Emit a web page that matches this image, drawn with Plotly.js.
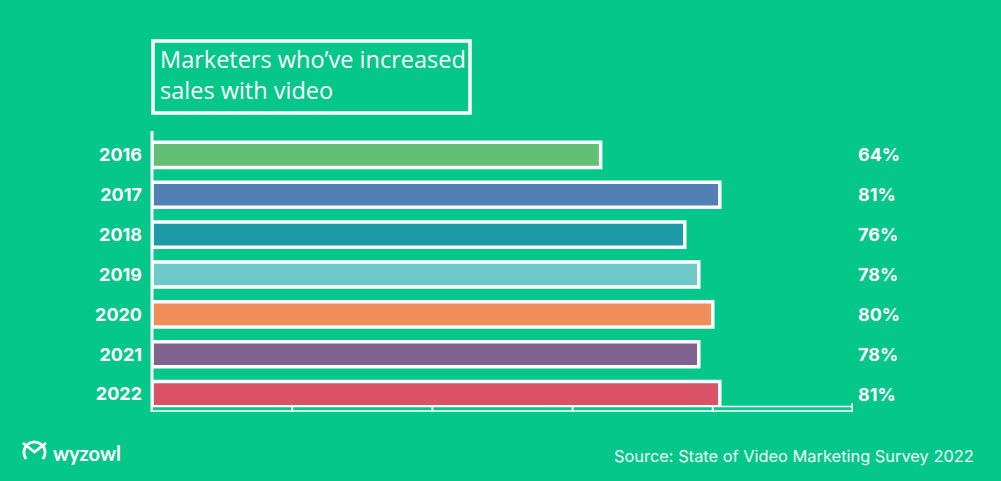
<!DOCTYPE html>
<html>
<head>
<meta charset="utf-8">
<script src="https://cdn.plot.ly/plotly-3.0.1.min.js"></script>
<style>
  html, body { margin: 0; padding: 0; background: #04C789; }
  #chart { width: 1001px; height: 481px; }
</style>
</head>
<body>
<div id="chart"></div>
<script>
const years = ["2016", "2017", "2018", "2019", "2020", "2021", "2022"];
const values = [64, 81, 76, 78, 80, 78, 81];
const valueLabels = ["64%", "81%", "76%", "78%", "80%", "78%", "81%"];
const barColors = ["#62BF74", "#5280B4", "#1E9AA6", "#6FC8C9", "#F18D59", "#80628F", "#D95265"];
const xTicks = [0, 20, 40, 60, 80, 100];

const BG = "#04C789";
const W = 1001, H = 481;
const M = { l: 152, r: 148, t: 135, b: 67 };
const PW = W - M.l - M.r, PH = H - M.t - M.b;
const px = x => (x - M.l) / PW;         // pixel x -> paper x
const py = y => (H - M.b - y) / PH;     // pixel y -> paper y

const trace = {
  type: "bar",
  orientation: "h",
  y: years,
  x: values,
  marker: { color: barColors, line: { color: "#FFFFFF", width: 3.5 } },
  hoverinfo: "none"
};

const annotations = valueLabels.map((t, i) => ({
  xref: "paper", yref: "y", x: px(856), y: i, xanchor: "left", yanchor: "middle",
  text: t, showarrow: false,
  font: { family: "Inter, Roboto, sans-serif", size: 18, color: "#FFFFFF", weight: 700 }
}));

annotations.push({
  xref: "paper", yref: "paper", x: px(158), y: py(41), xanchor: "left", yanchor: "top", align: "left",
  text: "Marketers who’ve increased<br>sales with video", showarrow: false,
  font: { family: "Open Sans, Noto Sans, sans-serif", size: 23.5, color: "#FFFFFF" }
});
annotations.push({
  xref: "paper", yref: "paper", x: px(51), y: py(453), xanchor: "left", yanchor: "middle",
  text: "<b>wyzowl</b>", showarrow: false,
  font: { family: "Lato, Inter, sans-serif", size: 20, color: "#FFFFFF" }
});
annotations.push({
  xref: "paper", yref: "paper", x: px(976), y: py(456), xanchor: "right", yanchor: "middle",
  text: "Source: State of Video Marketing Survey 2022", showarrow: false,
  font: { family: "Inter, sans-serif", size: 16.4, color: "#F2FFF9" }
});

const shapes = [];
// title box
shapes.push({ type: "rect", xref: "paper", yref: "paper", x0: px(153), x1: px(470), y0: py(113), y1: py(41),
  line: { color: "#FFFFFF", width: 3.5 }, fillcolor: "rgba(0,0,0,0)", layer: "above" });
// y axis line
shapes.push({ type: "line", xref: "paper", yref: "paper", x0: px(152), x1: px(152), y0: py(131), y1: py(412),
  line: { color: "#FFFFFF", width: 3 }, layer: "above" });
// x axis (double line)
shapes.push({ type: "rect", xref: "x", yref: "paper", x0: xTicks[0], x1: xTicks[xTicks.length - 1], y0: py(411), y1: py(406.5),
  line: { color: "#FFFFFF", width: 1.6 }, fillcolor: BG, layer: "above" });
// ticks
xTicks.slice(1).forEach((v, i, arr) => {
  const last = i === arr.length - 1;
  shapes.push({ type: "line", xref: "x", yref: "paper", x0: v, x1: v, y0: py(last ? 403 : 406), y1: py(411.5),
    line: { color: "#FFFFFF", width: last ? 3 : 2 }, layer: "above" });
});
// logo icon
const ix = 23, iy = 443;
shapes.push({ type: "path", xref: "paper", yref: "paper",
  path: `M ${px(ix)},${py(iy)} L ${px(ix+11.5)},${py(iy+9)} L ${px(ix+23)},${py(iy)}`,
  line: { color: "#FFFFFF", width: 2.8 } });
(function () {
  const cx = ix + 11.5, cy = iy + 9.5, r = 10.5;
  let d = "";
  for (let k = 0; k <= 40; k++) {
    const a = (-128 + (256 * k) / 40) * Math.PI / 180;
    const X = cx - r * Math.sin(a);
    const Y = cy - r * Math.cos(a);
    d += (k === 0 ? "M " : " L ") + px(X) + "," + py(Y);
  }
  shapes.push({ type: "path", xref: "paper", yref: "paper", path: d, line: { color: "#FFFFFF", width: 2.8 } });
})();

const layout = {
  width: W, height: H,
  margin: M,
  paper_bgcolor: BG, plot_bgcolor: BG,
  showlegend: false,
  bargap: 0.37,
  xaxis: { range: [0, 100], showgrid: false, zeroline: false, showticklabels: false, showline: false, fixedrange: true },
  yaxis: {
    type: "category", range: [years.length - 0.5, -0.5], autorange: false,
    showgrid: false, zeroline: false, showline: false,
    ticks: "", ticklabelstandoff: 9,
    tickfont: { family: "Inter, Roboto, sans-serif", size: 18, color: "#FFFFFF", weight: 700 }
  },
  annotations: annotations,
  shapes: shapes
};

Plotly.newPlot("chart", [trace], layout, { staticPlot: true, displayModeBar: false });
</script>
</body>
</html>
